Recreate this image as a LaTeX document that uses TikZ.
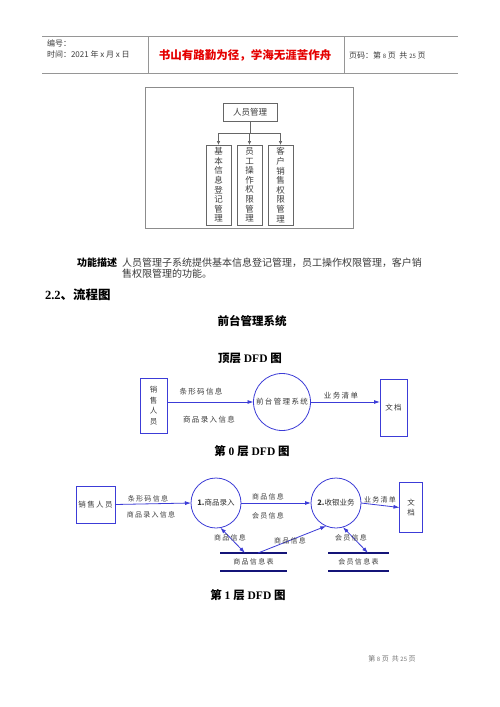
\documentclass[tikz,border=0pt]{standalone}
\usepackage{fontspec}
\setmainfont{Liberation Serif}
\newfontfamily\cjk{Noto Sans CJK SC}
\newfontfamily\cjksp[LetterSpace=18]{Noto Sans CJK SC}
\usetikzlibrary{arrows.meta}
\definecolor{dfdblue}{RGB}{60,60,215}
\definecolor{navy}{RGB}{20,20,120}
\definecolor{hdgray}{RGB}{150,150,150}
\definecolor{txt}{RGB}{60,60,60}
\tikzset{
  hdline/.style={draw=hdgray, line width=0.8pt},
  hdtext/.style={anchor=west, font=\cjk\fontsize{8}{9}\selectfont, text=txt},
  orgline/.style={draw=black!60, line width=0.7pt},
  orgarrow/.style={orgline, -{Latex[length=4pt,width=3.5pt]}},
  orgbox/.style={draw=black!60, line width=0.7pt, align=center, font=\cjk\fontsize{8.5}{9.6}\selectfont, text=txt},
  dfdline/.style={draw=dfdblue, line width=0.8pt},
  dfdarrow/.style={dfdline, -{Latex[length=6pt,width=4pt]}},
  dfdarrowtwo/.style={dfdline, {Latex[length=6pt,width=4pt]}-{Latex[length=6pt,width=4pt]}},
  dfdbox/.style={draw=dfdblue, line width=0.8pt, align=center, font=\cjksp\fontsize{7.5}{10.5}\selectfont, text=txt},
  dfdproc/.style={circle, draw=dfdblue, line width=0.8pt, font=\cjksp\fontsize{7.5}{9}\selectfont, text=txt},
  lbl/.style={font=\cjksp\fontsize{7.5}{9}\selectfont, text=txt},
  lblsmall/.style={font=\cjksp\fontsize{7}{8}\selectfont, text=txt},
  storeline/.style={draw=navy, line width=1.8pt},
  title/.style={font=\bfseries\fontsize{11.5}{13}\selectfont}
}
\begin{document}
\begin{tikzpicture}[x=1pt,y=-1pt, every node/.style={inner sep=0pt, outer sep=0pt}]
\useasboundingbox (0,0) rectangle (500,707);
\fill[white] (0,0) rectangle (500,707);

% header
\draw[hdline] (42,36) -- (458,36);
\draw[hdline] (42,73) -- (458,73);
\draw[hdline] (148,36) -- (148,73);
\draw[hdline] (344,36) -- (344,73);
\node[hdtext] (hd1) at (47,43) {编号：};
\node[hdtext] (hd2) at (47,54) {时间：2021 年 x 月 x 日};
\node[font=\cjk\bfseries\fontsize{11.5}{13}\selectfont, text=red!90!black] (motto) at (245,55) {书山有路勤为径，学海无涯苦作舟};
\node[hdtext] (pg) at (349,55) {页码：第 {\fontsize{6}{7}\selectfont 8} 页 \ 共 {\fontsize{6}{7}\selectfont 25} 页};

% org chart
\draw[draw=black!45, line width=0.6pt] (145,87) rectangle (353,228);
\node[orgbox, minimum width=54pt, minimum height=18pt] (root) at (250,112) {人员管理};
\node[orgbox, minimum width=25pt, minimum height=80pt] (c1) at (218.5,185) {基\\本\\信\\息\\登\\记\\管\\理};
\node[orgbox, minimum width=25pt, minimum height=80pt] (c2) at (249.5,185) {员\\工\\操\\作\\权\\限\\管\\理};
\node[orgbox, minimum width=25pt, minimum height=80pt] (c3) at (280.5,185) {客\\户\\销\\售\\权\\限\\管\\理};
\coordinate (split) at (250,133);
\draw[orgarrow] (root.south) -- (split) -| (c1.north);
\draw[orgarrow] (root.south) -- (split) -| (c2.north);
\draw[orgarrow] (root.south) -- (split) -| (c3.north);

% description
\node[anchor=west, font=\cjk\bfseries\fontsize{10}{12}\selectfont] (fdl) at (77,263) {功能描述};
\node[anchor=west, font=\cjk\fontsize{10}{12}\selectfont, text=txt] (fd1) at (122,263) {人员管理子系统提供基本信息登记管理，员工操作权限管理，客户销};
\node[anchor=west, font=\cjk\fontsize{10}{12}\selectfont, text=txt] (fd2) at (122,274) {售权限管理的功能。};

\node[anchor=west, font=\bfseries\fontsize{12.5}{14}\selectfont] (sec) at (45,295) {2.2{\cjk 、流程图}};
\node[font=\cjk\bfseries\fontsize{11.5}{13}\selectfont] (t0) at (252,321) {前台管理系统};
\node[title] (t1) at (250,358) {{\cjk 顶层} DFD {\cjk 图}};

% top DFD
\node[dfdbox, minimum width=27pt, minimum height=55pt] (sp0) at (153.5,405.5) {销\\售\\人\\员};
\node[dfdproc, minimum size=57pt] (sys0) at (282,402) {前台管理系统};
\node[dfdbox, minimum width=27pt, minimum height=57pt] (doc0) at (393.5,407.5) {文档};
\draw[dfdarrow] (sp0.east |- sys0.west) -- (sys0.west);
\draw[dfdarrow] (sys0.east) -- (doc0.west |- sys0.east);
\node[lbl] (l01) at (201,392) {条形码信息};
\node[lbl] (l02) at (209,420) {商品录入信息};
\node[lbl] (l03) at (341,396) {业务清单};

\node[title] (t2) at (252,451) {{\cjk 第} 0 {\cjk 层} DFD {\cjk 图}};

% level 1 DFD
\node[dfdbox, minimum width=39pt, minimum height=37pt] (sp1) at (95.5,504.5) {销售人员};
\node[dfdproc, minimum size=50pt, font=\cjk\fontsize{7.5}{9}\selectfont, text=black!80] (p1) at (216,503) {{\bfseries 1.}商品录入};
\node[dfdproc, minimum size=50pt, font=\cjk\fontsize{7.5}{9}\selectfont, text=black!80] (p2) at (336,503) {{\bfseries 2.}收银业务};
\node[dfdbox, minimum width=23pt, minimum height=50pt, font=\cjksp\fontsize{7.5}{10}\selectfont] (doc1) at (411,507.5) {文\\档};
\node[lblsmall, minimum width=67pt, minimum height=18pt] (st1) at (253.5,562) {商品信息表};
\node[lblsmall, minimum width=61pt, minimum height=18pt] (st2) at (358.5,562) {会员信息表};
\draw[storeline] (st1.north west) -- (st1.north east);
\draw[storeline] (st1.south west) -- (st1.south east);
\draw[storeline] (st2.north west) -- (st2.north east);
\draw[storeline] (st2.south west) -- (st2.south east);

\draw[dfdarrow] (sp1.east) -- (p1.west);
\draw[dfdarrow] (p1.east) -- (p2.west);
\draw[dfdarrow] (p2.east) -- (doc1.west);
\draw[dfdarrowtwo] (p1.-80) -- ([xshift=25pt]st1.north west);
\draw[dfdarrow] ([xshift=38pt]st1.north west) -- (p2.-113);
\draw[dfdarrowtwo] (p2.-74) -- ([xshift=40pt]st2.north west);

\node[lblsmall] (l11) at (148,499) {条形码信息};
\node[lblsmall] (l12) at (151,515) {商品录入信息};
\node[lblsmall] (l13) at (268,497) {商品信息};
\node[lblsmall] (l14) at (268,516) {会员信息};
\node[lblsmall] (l15) at (380,500) {业务清单};
\node[lblsmall] (l16) at (230,538) {商品信息};
\node[lblsmall] (l17) at (290,541) {商品信息};
\node[lblsmall] (l18) at (351,538) {会员信息};

\node[title] (t3) at (248,595) {{\cjk 第} 1 {\cjk 层} DFD {\cjk 图}};

% footer
\node[font=\cjk\fontsize{7}{8}\selectfont, text=black!55] (ft) at (392,659) {第 {\fontsize{6}{7}\selectfont 8} 页 \ 共 {\fontsize{6}{7}\selectfont 25} 页};
\end{tikzpicture}
\end{document}
